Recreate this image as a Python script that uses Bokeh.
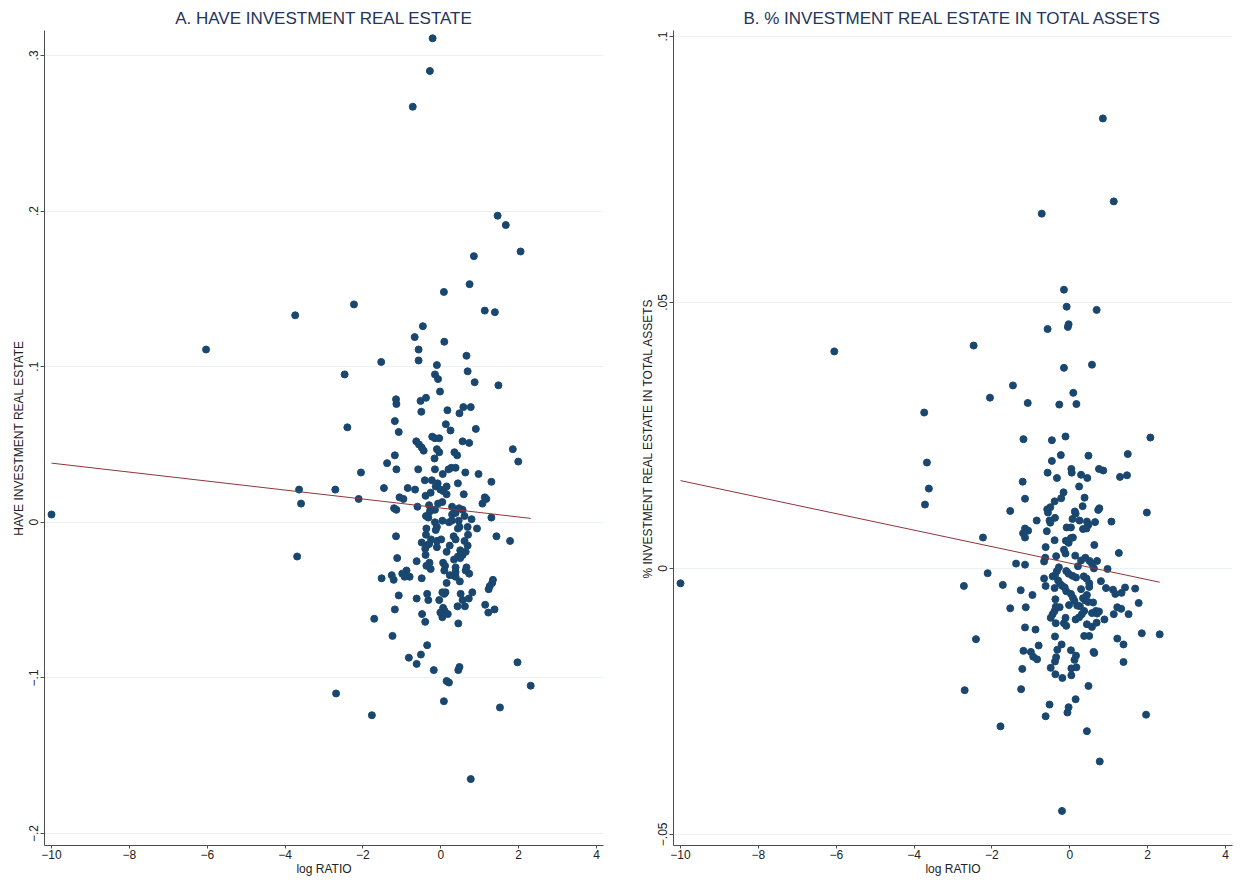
from bokeh.plotting import figure
from bokeh.layouts import row
from bokeh.models import Range1d, FixedTicker
from bokeh.embed import file_html
from bokeh.resources import INLINE

# ---------------- data ----------------
x_ticks = [-10, -8, -6, -4, -2, 0, 2, 4]
x_tick_labels = ["\u221210", "\u22128", "\u22126", "\u22124", "\u22122", "0", "2", "4"]

a_title = "A. HAVE INVESTMENT REAL ESTATE"
a_ylabel = "HAVE INVESTMENT REAL ESTATE"
a_yticks = [-0.2, -0.1, 0, 0.1, 0.2, 0.3]
a_ytick_labels = ["\u2212.2", "\u2212.1", "0", ".1", ".2", ".3"]

a_x = [-10.0, -6.03, -3.74, -3.64, -3.59, -3.69, -0.21, -0.28, -0.72, 1.46, 1.67, 2.05, 0.85,
       0.74, 0.08, -2.23, 1.13, 1.39, -0.46, -0.67, 0.09, -0.57, -0.57, -1.53, 0.66, -0.10,
       -2.47, 0.69, -0.15, -0.07, 0.87, 1.48, -0.02, -1.15, -1.14, -0.38, -0.52, -0.50, 0.17,
       0.58, 0.77, 0.48, -1.18, -2.40, -1.08, 0.13, 0.25, 0.90, -0.22, -0.15, -0.04, -0.63,
       -0.56, -0.49, -0.44, 0.56, 0.73, 1.85, 1.99, -0.10, -0.04, 0.35, 0.42, -1.18, -0.16,
       -1.38, -1.14, -0.58, -0.15, 0.20, 0.27, 0.38, 0.05, 0.63, 0.97, -2.05, 1.30, -0.41,
       -0.23, -0.08, 0.44, -0.13, 0.15, -2.71, -1.46, -0.85, -0.66, -0.26, -0.01, 0.07, 0.15,
       0.59, -0.39, -1.06, -0.96, -2.11, 1.13, 1.17, 1.07, 0.04, -0.07, -0.30, -0.24, -0.15,
       -0.28, -0.60, -1.20, -1.14, 0.29, 0.35, 0.47, 0.56, 0.29, 0.38, 0.61, 0.79, 1.30,
       -0.38, -0.32, 0.04, 0.21, 0.28, -0.15, -0.10, -0.13, 0.46, 0.48, 0.44, -0.37, 0.69,
       0.93,
       -1.15, -0.38, -0.25, -0.10, 0.01, 0.33, 0.38, 0.70, 1.43, 1.78, -0.49, -0.37, -0.30,
       -0.40, -0.10, 0.23, 0.61, 0.69, 0.15, 0.50, 0.64, 0.56, 0.44, 0.50, -0.39, -1.12, 0.34,
       -0.62, -0.29, -0.37, -0.26, 0.06, 0.11, 0.09, 0.38, 0.38, 0.33, 0.38, 0.66, 0.64, 0.73,
       -0.88, -0.99, -0.93, -0.80, -1.26, -1.21, -1.52, -0.49, 0.23, 0.15, 0.49, 1.34, 1.32,
       1.26, 1.23, 0.04, 0.12, 0.09, 0.81, 0.51, -0.35, -0.32, -1.08, -0.62, -0.04, 0.56, 0.72,
       0.43, 0.62, 1.14, 1.38, 1.22, 0.06, 0.10, -0.01, 0.04, 0.18, -1.18, -0.48, -0.40, 0.45,
       -1.71, -1.24, -0.35, -0.82, -0.51, -0.62, -0.18, 0.48, 0.45, 1.97, 0.15, 0.21, -2.69,
       2.31, 0.08, 1.52, -1.77, 0.77]
a_y = [0.005, 0.111, 0.133, 0.021, 0.012, -0.022, 0.311, 0.290, 0.267, 0.197, 0.191, 0.174, 0.171,
       0.153, 0.148, 0.140, 0.136, 0.135, 0.126, 0.119, 0.116, 0.111, 0.104, 0.103, 0.107, 0.101,
       0.095, 0.097, 0.095, 0.092, 0.090, 0.088, 0.084, 0.079, 0.076, 0.080, 0.078, 0.071, 0.072,
       0.074, 0.074, 0.070, 0.065, 0.061, 0.058, 0.063, 0.059, 0.060, 0.055, 0.054, 0.054, 0.052,
       0.050, 0.048, 0.046, 0.052, 0.051, 0.047, 0.039, 0.047, 0.045, 0.045, 0.043, 0.043, 0.041,
       0.038, 0.034, 0.034, 0.034, 0.034, 0.035, 0.035, 0.031, 0.032, 0.031, 0.032, 0.026, 0.027,
       0.027, 0.025, 0.025, 0.023, 0.023, 0.021, 0.022, 0.022, 0.021, 0.019, 0.021, 0.020, 0.018,
       0.018, 0.017, 0.016, 0.015, 0.015, 0.016, 0.015, 0.012, 0.013, 0.012, 0.011, 0.008, 0.008,
       0.007, 0.010, 0.009, 0.008, 0.010, 0.008, 0.009, 0.008, 0.005, 0.006, 0.004, 0.002, 0.003,
       0.004, 0.003, 0.001, 0.000, 0.001, 0.000, -0.003, -0.005, 0.001, -0.003, -0.004, -0.004, -0.003,
       -0.004,
       -0.009, -0.008, -0.011, -0.012, -0.011, -0.009, -0.011, -0.008, -0.009, -0.012, -0.013, -0.015, -0.014,
       -0.017, -0.016, -0.015, -0.012, -0.015, -0.019, -0.018, -0.019, -0.021, -0.022, -0.023, -0.021, -0.023, -0.024,
       -0.025, -0.026, -0.028, -0.030, -0.026, -0.028, -0.031, -0.029, -0.032, -0.034, -0.035, -0.029, -0.031, -0.033,
       -0.031, -0.033, -0.035, -0.035, -0.034, -0.037, -0.036, -0.036, -0.034, -0.039, -0.038, -0.037, -0.039,
       -0.041, -0.043, -0.045, -0.045, -0.046, -0.045, -0.046, -0.046, -0.050, -0.047, -0.049, -0.050, -0.050, -0.049,
       -0.054, -0.054, -0.053, -0.056, -0.058, -0.055, -0.057, -0.058, -0.061, -0.059, -0.056, -0.059, -0.064, -0.065,
       -0.062, -0.073, -0.079, -0.087, -0.085, -0.091, -0.095, -0.093, -0.095, -0.090, -0.102, -0.103, -0.110,
       -0.105, -0.115, -0.119, -0.124, -0.165]
a_fit_x = [-10.0, 2.31]
a_fit_y = [0.038, 0.0025]

b_title = "B. % INVESTMENT REAL ESTATE IN TOTAL ASSETS"
b_ylabel = "% INVESTMENT REAL ESTATE IN TOTAL ASSETS"
b_yticks = [-0.05, 0, 0.05, 0.1]
b_ytick_labels = ["\u2212.05", "0", ".05", ".1"]

b_x = [-10.0, -6.05, -3.74, -3.67, -3.62, -3.72, -0.72, 0.85, 1.13,
       -0.15, -0.08, 0.69, -0.03, -0.05, -0.57, -2.47, -0.15, 0.57, -1.46, -2.05, -1.08, -0.27,
       0.09, 0.17, -1.19, -0.46, -0.11, 2.07, -0.23, 0.48, 1.49, -0.46, -0.57, 0.04, 0.05, 0.75,
       0.86, 1.29, 1.47, 0.29, 0.45, -0.33, -1.21, 0.24, -0.16, -1.15, 0.38, -0.22, -0.39, 0.33,
       0.76, 0.73, 1.98, -1.53, -0.58, -0.50, -0.56, 0.13, 0.15, -0.38, 0.07, 0.25, -0.85, -0.52,
       -0.50, 0.44, 0.48, 0.43, 0.34, 0.65, 1.07, -0.08, 0.03, -1.15, -1.07, -1.20, -1.15, -0.59,
       -2.23, -0.39, -0.10, 0.03, 0.08, -0.03, 0.63, -0.62, -0.15,
       -0.11, 1.26, -0.35, 0.14, 0.40, 0.29, 0.51, 0.57, 0.70, -0.66, -0.63, -1.38, -1.15, -0.28,
       -0.33, 0.21, 0.62, 0.97, -2.11, -0.09, -0.03, 0.07, 0.16, -0.44, -0.38, 0.36, 0.43, -0.66,
       0.80, -0.30, -0.25, -0.19, 0.50, 0.50, -2.72, -1.72, -0.62, -0.39, -0.13, -0.09, 0.93,
       1.11, 1.17, 1.33, 1.42, 1.68, -1.26, 0.29, -0.96, 0.03, 0.08, 0.12, 0.44, 0.34, 0.40, 0.47,
       0.60, -0.37, 1.77, -0.02, 0.19, 0.26, -1.53, -1.13, -0.36, -0.26, -0.39, -0.44, -0.49,
       1.22, 1.32, 0.37, 0.31, 0.24, 0.57, 0.67, 0.75, 0.70, 1.13, 1.51, -0.11, -0.15, -0.09,
       0.15, 0.89, 0.44, 0.57, 0.69, -0.36, -1.15, -0.88, -2.41, -0.38, 0.37, 0.50, 1.22, 1.85,
       2.31, 1.38, -0.80, -0.21, -1.19, -1.00, -0.32, 0.03, -0.94, -0.84, -0.35, -0.38, 0.16,
       0.12, 0.61, 0.63, 1.38, -1.22, -0.49, 0.04, 0.17, -0.37, -0.19, 0.04, 0.48, -2.70, -1.25,
       0.15, -0.52, -0.03, -0.06, -0.62, 1.96, -1.78, 0.44, 0.77, -0.20]
b_y = [-0.0028, 0.0408, 0.0293, 0.0199, 0.0150, 0.0120, 0.0667, 0.0846, 0.0690,
       0.0524, 0.0492, 0.0486, 0.0459, 0.0454, 0.0450, 0.0419, 0.0377, 0.0383, 0.0344, 0.0321,
       0.0311, 0.0308, 0.0330, 0.0309, 0.0243, 0.0241, 0.0248, 0.0246, 0.0213, 0.0212, 0.0215,
       0.0202, 0.0180, 0.0187, 0.0180, 0.0187, 0.0184, 0.0172, 0.0175, 0.0176, 0.0170, 0.0170,
       0.0163, 0.0154, 0.0143, 0.0131, 0.0133, 0.0132, 0.0126, 0.0117, 0.0113, 0.0110, 0.0105,
       0.0108, 0.0111, 0.0115, 0.0105, 0.0107, 0.0103, 0.0095, 0.0093, 0.0090, 0.0090, 0.0090,
       0.0086, 0.0088, 0.0082, 0.0075, 0.0074, 0.0087, 0.0088, 0.0077, 0.0077, 0.0075, 0.0071,
       0.0066, 0.0058, 0.0070, 0.0058, 0.0053, 0.0052, 0.0057, 0.0058, 0.0048, 0.0044, 0.0040,
       0.0035,
       0.0028, 0.0029, 0.0023, 0.0024, 0.0020, 0.0015, 0.0014, 0.0009, 0.0014, 0.0013, 0.0020,
       0.0009, 0.0007, 0.0002, -0.0005, 0.0004, 0.0000, -0.0001, -0.0009, -0.0005, -0.0010,
       -0.0014, -0.0017, -0.0015, -0.0013, -0.0015, -0.0019, -0.0019, -0.0024, -0.0023, -0.0029,
       -0.0033, -0.0028, -0.0035, -0.0033, -0.0031, -0.0033, -0.0037, -0.0036, -0.0043, -0.0037,
       -0.0040, -0.0048, -0.0046, -0.0036, -0.0038, -0.0041, -0.0039, -0.0050, -0.0048, -0.0055,
       -0.0061, -0.0050, -0.0056, -0.0060, -0.0063, -0.0064, -0.0058, -0.0065, -0.0069, -0.0070,
       -0.0071, -0.0075, -0.0073, -0.0072, -0.0073, -0.0080, -0.0086, -0.0093, -0.0073, -0.0076,
       -0.0080, -0.0086, -0.0092, -0.0084, -0.0080, -0.0081, -0.0085, -0.0086, -0.0086, -0.0093,
       -0.0103, -0.0108, -0.0096, -0.0096, -0.0105, -0.0110, -0.0102, -0.0103, -0.0111, -0.0115,
       -0.0133, -0.0128, -0.0127, -0.0127, -0.0132, -0.0122, -0.0124, -0.0143, -0.0145, -0.0143,
       -0.0155, -0.0157, -0.0153, -0.0154, -0.0166, -0.0171, -0.0167, -0.0175, -0.0164, -0.0172,
       -0.0157, -0.0159, -0.0176, -0.0189, -0.0187, -0.0188, -0.0186, -0.0199, -0.0206, -0.0201,
       -0.0221, -0.0229, -0.0227, -0.0246, -0.0256, -0.0261, -0.0271, -0.0278, -0.0275, -0.0297,
       -0.0306, -0.0363, -0.0456]
b_fit_x = [-10.0, 2.31]
b_fit_y = [0.0165, -0.0026]

# ---------------- styling ----------------
FONT = "Liberation Sans"
MARKER = "#1a476f"
FITC = "#90353b"
TITLEC = "#24345a"
AXISC = "#4d4d4d"
GRIDC = "#eaf2f3"


def panel(title, ylabel, xs, ys, fx, fy, yr, yticks, ylabels, left, right):
    p = figure(frame_width=559, frame_height=815, x_range=Range1d(-10.18, 4.18), y_range=Range1d(*yr),
               output_backend="svg", toolbar_location=None,
               min_border_left=left, min_border_right=right, min_border_top=30,
               min_border_bottom=0, title=title)
    p.outline_line_color = None
    p.title.align = "center"
    p.title.text_font = FONT
    p.title.text_font_size = "17px"
    p.title.text_font_style = "normal"
    p.title.text_color = TITLEC
    p.title.standoff = 6

    p.scatter(xs, ys, size=7, color=MARKER, line_color=MARKER)
    p.line(fx, fy, line_color=FITC, line_width=1)

    p.xaxis.ticker = FixedTicker(ticks=x_ticks)
    p.xaxis.major_label_overrides = {t: l for t, l in zip(x_ticks, x_tick_labels)}
    p.yaxis.ticker = FixedTicker(ticks=yticks)
    p.yaxis.major_label_overrides = {t: l for t, l in zip(yticks, ylabels)}
    p.yaxis.major_label_orientation = "vertical"

    p.xaxis.axis_label = "log RATIO"
    p.yaxis.axis_label = ylabel
    for ax in (p.xaxis, p.yaxis):
        ax.axis_line_color = AXISC
        ax.major_tick_line_color = AXISC
        ax.minor_tick_line_color = None
        ax.major_tick_out = 4
        ax.major_tick_in = 0
        ax.major_label_standoff = 2
        ax.axis_label_standoff = 1
        ax.major_label_text_font = FONT
        ax.major_label_text_font_size = "12px"
        ax.major_label_text_color = "#222222"
        ax.axis_label_text_font = FONT
        ax.axis_label_text_font_size = "12px"
        ax.axis_label_text_font_style = "normal"
        ax.axis_label_text_color = "#222222"
    p.xaxis.major_tick_out = 3
    p.xaxis.major_label_standoff = 1
    p.xaxis.axis_label_standoff = 0
    p.xgrid.grid_line_color = None
    p.ygrid.grid_line_color = GRIDC
    p.ygrid.grid_line_width = 1
    return p


pa = panel(a_title, a_ylabel, a_x, a_y, a_fit_x, a_fit_y, (-0.2077, 0.316), a_yticks, a_ytick_labels,
           44, 17)
pb = panel(b_title, b_ylabel, b_x, b_y, b_fit_x, b_fit_y, (-0.0521, 0.10113), b_yticks, b_ytick_labels,
           53, 8)

layout = row(pa, pb)
open("out.html", "w").write(file_html(layout, INLINE))
